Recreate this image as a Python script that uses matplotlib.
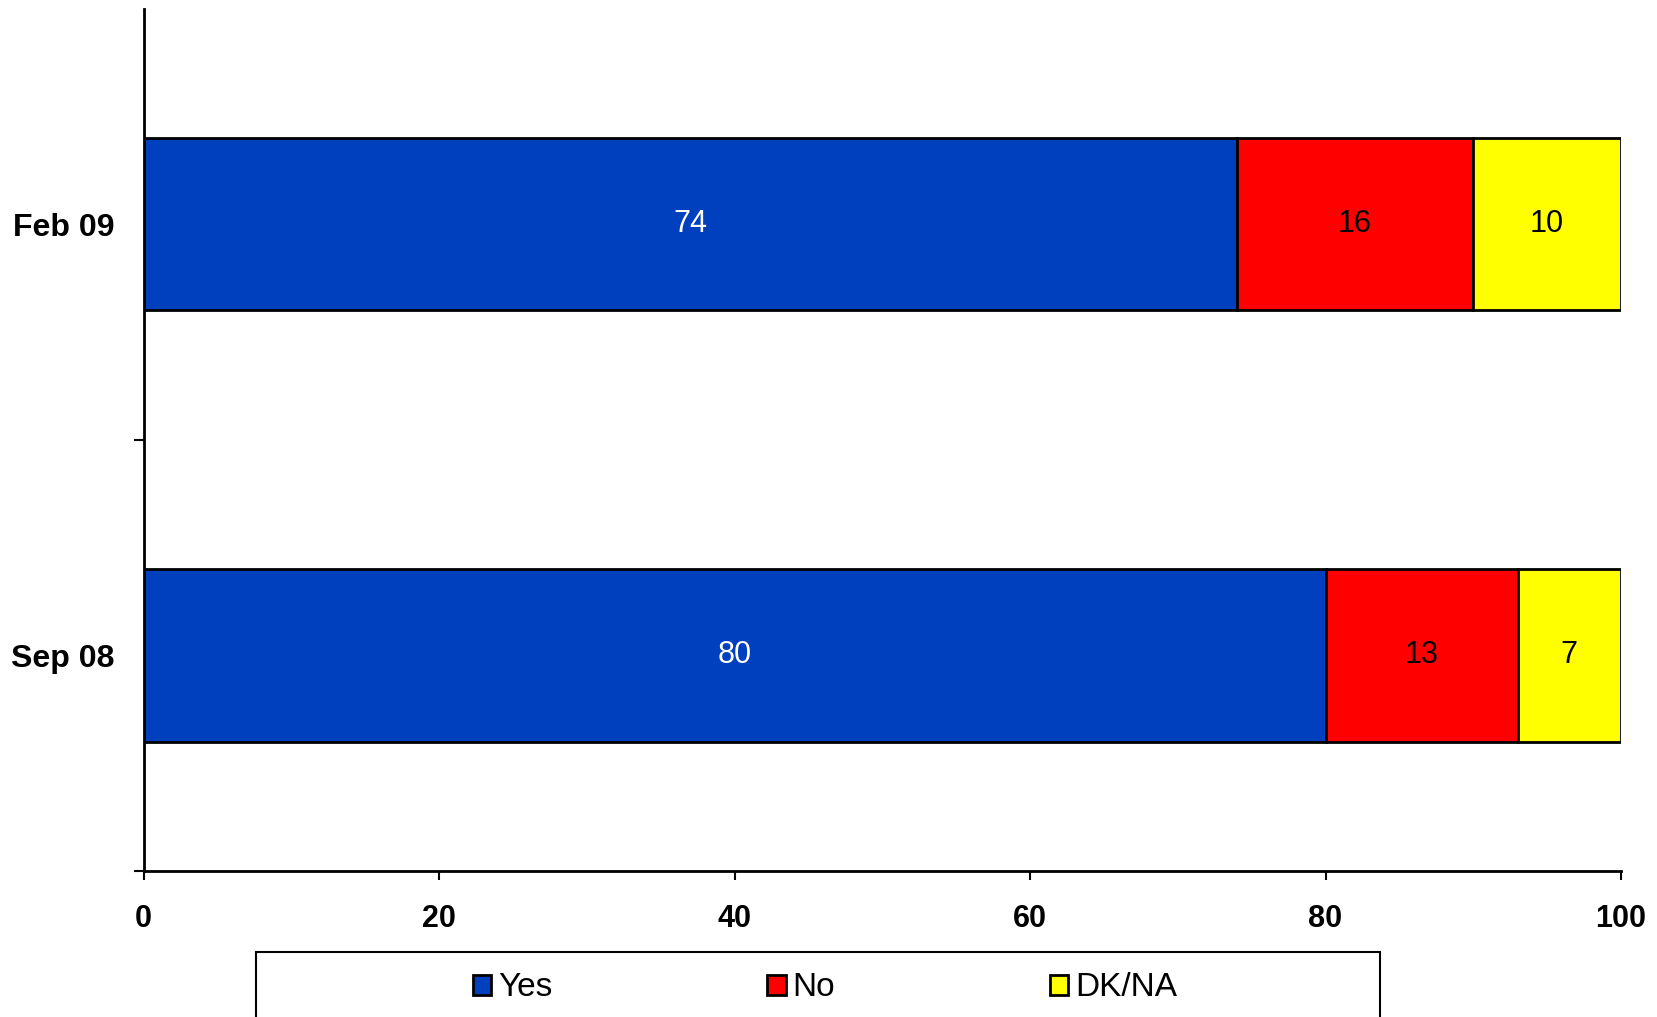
import matplotlib.pyplot as plt
from matplotlib.patches import Rectangle

# data
periods = ["Sep 08", "Feb 09"]
yes = [80, 74]
no = [13, 16]
dkna = [7, 10]
series_names = ["Yes", "No", "DK/NA"]
colors = ["#0040BF", "#FF0000", "#FFFF00"]
label_colors = ["white", "black", "black"]

plt.rcParams["font.family"] = ["Liberation Sans", "DejaVu Sans"]

fig = plt.figure(figsize=(16.58, 10.17), dpi=100)
ax = fig.add_axes([0.0866, 0.1436, 0.8911, 0.848])

pos = [0.5, 1.5]
left = [0, 0]
bars = []
for vals, name, col, lc in zip([yes, no, dkna], series_names, colors, label_colors):
    b = ax.barh(pos, vals, left=left, height=0.4, color=col, edgecolor="black",
                linewidth=2, label=name)
    bars.append(b)
    for p, v, l in zip(pos, vals, left):
        ax.text(l + v / 2, p, str(v), ha="center", va="center", fontsize=22, color=lc)
    left = [a + v for a, v in zip(left, vals)]

ax.set_xlim(0, 100)
ax.set_ylim(0, 2)
ax.set_xticks([0, 20, 40, 60, 80, 100])
ax.set_yticks([0, 1])
ax.set_yticklabels([])
ax.set_yticks(pos, minor=True)
ax.set_yticklabels(periods, minor=True)
ax.tick_params(axis="y", which="minor", length=0, pad=21, labelsize=23)
ax.tick_params(axis="y", which="major", length=7, width=1.5, direction="out")
ax.tick_params(axis="x", length=6.5, width=1.5, direction="out", pad=17, labelsize=22)
for lab in ax.get_xticklabels():
    lab.set_fontweight("bold")
for lab in ax.get_yticklabels(minor=True):
    lab.set_fontweight("bold")

for s in ["top", "right"]:
    ax.spines[s].set_visible(False)
for s in ["left", "bottom"]:
    ax.spines[s].set_linewidth(2)

# legend box
fig.patches.append(Rectangle((256 / 1658, -0.05), (1380 - 256) / 1658, 0.05 + 65 / 1017,
                             transform=fig.transFigure, facecolor="white",
                             edgecolor="black", linewidth=1.5))
leg = fig.legend(handles=bars, labels=series_names, ncol=3, frameon=False,
                 loc="center left", bbox_to_anchor=(473 / 1658, 29 / 1017),
                 fontsize=24, handlelength=0.55, handleheight=0.55, handletextpad=0.2,
                 columnspacing=6.45, borderpad=0, borderaxespad=0)

fig.savefig("out.png", dpi=100)
